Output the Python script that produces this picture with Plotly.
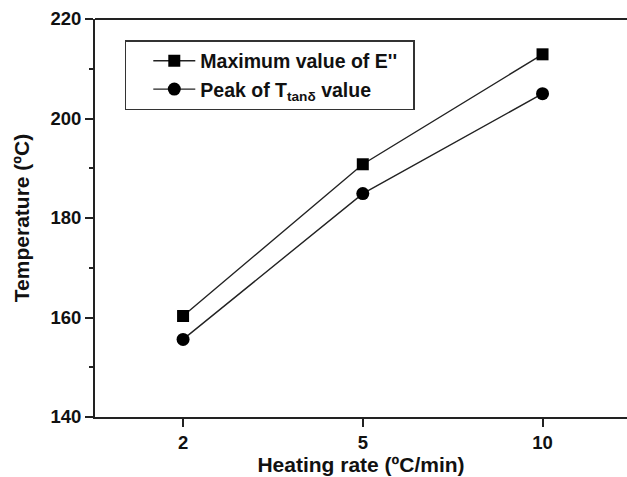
import plotly.graph_objects as go

heating_rates = ["2", "5", "10"]
max_E2 = [160.3, 190.8, 212.9]
peak_tand = [155.6, 184.9, 205.0]
y_ticks = [140, 160, 180, 200, 220]

FONT = "Liberation Sans, Arial, sans-serif"

fig = go.Figure()
fig.add_trace(go.Scatter(
    x=heating_rates, y=max_E2, mode="lines+markers",
    name="Maximum value of E''\u00a0\u00a0",
    line=dict(color="#222222", width=1.4),
    marker=dict(symbol="square", size=12, color="black"),
))
fig.add_trace(go.Scatter(
    x=heating_rates, y=peak_tand, mode="lines+markers",
    name="Peak of T<sub>tanδ</sub> value",
    line=dict(color="#222222", width=1.4),
    marker=dict(symbol="circle", size=13, color="black"),
))

fig.add_shape(type="line", xref="paper", yref="paper", x0=0, x1=1, y0=1, y1=1,
              line=dict(color="#222222", width=2))

fig.update_layout(
    width=627, height=477,
    margin=dict(l=95, r=0, t=19, b=60),
    paper_bgcolor="white", plot_bgcolor="white",
    font=dict(family=FONT, color="#111111", size=18, weight="bold"),
    showlegend=True,
    legend=dict(
        x=0.056, y=0.947, xanchor="left", yanchor="top",
        bordercolor="#333333", borderwidth=1.5, bgcolor="white",
        font=dict(family=FONT, size=19.5, color="#111111", weight="bold"),
        itemwidth=42, tracegroupgap=0, indentation=22,
    ),
    xaxis=dict(
        type="category", range=[-0.49, 2.47],
        showline=True, linecolor="#222222", linewidth=2,
        ticks="outside", ticklen=8, tickwidth=2, tickcolor="#222222",
        tickfont=dict(family=FONT, size=18.5, weight="bold"),
        showgrid=False, zeroline=False,
        title=dict(text="Heating rate (ºC/min)", standoff=5,
                   font=dict(family=FONT, size=21, weight="bold")),
    ),
    yaxis=dict(
        range=[140, 220], tickvals=y_ticks,
        showline=True, linecolor="#222222", linewidth=2,
        ticks="outside", ticklen=8, tickwidth=2, tickcolor="#222222",
        minor=dict(dtick=10, ticklen=4, tickwidth=2, tickcolor="#222222", ticks="outside"),
        tickfont=dict(family=FONT, size=18.5, weight="bold"),
        showgrid=False, zeroline=False,
        title=dict(text="Temperature (ºC)", standoff=15,
                   font=dict(family=FONT, size=21, weight="bold")),
    ),
)

fig.write_html("out.html")
